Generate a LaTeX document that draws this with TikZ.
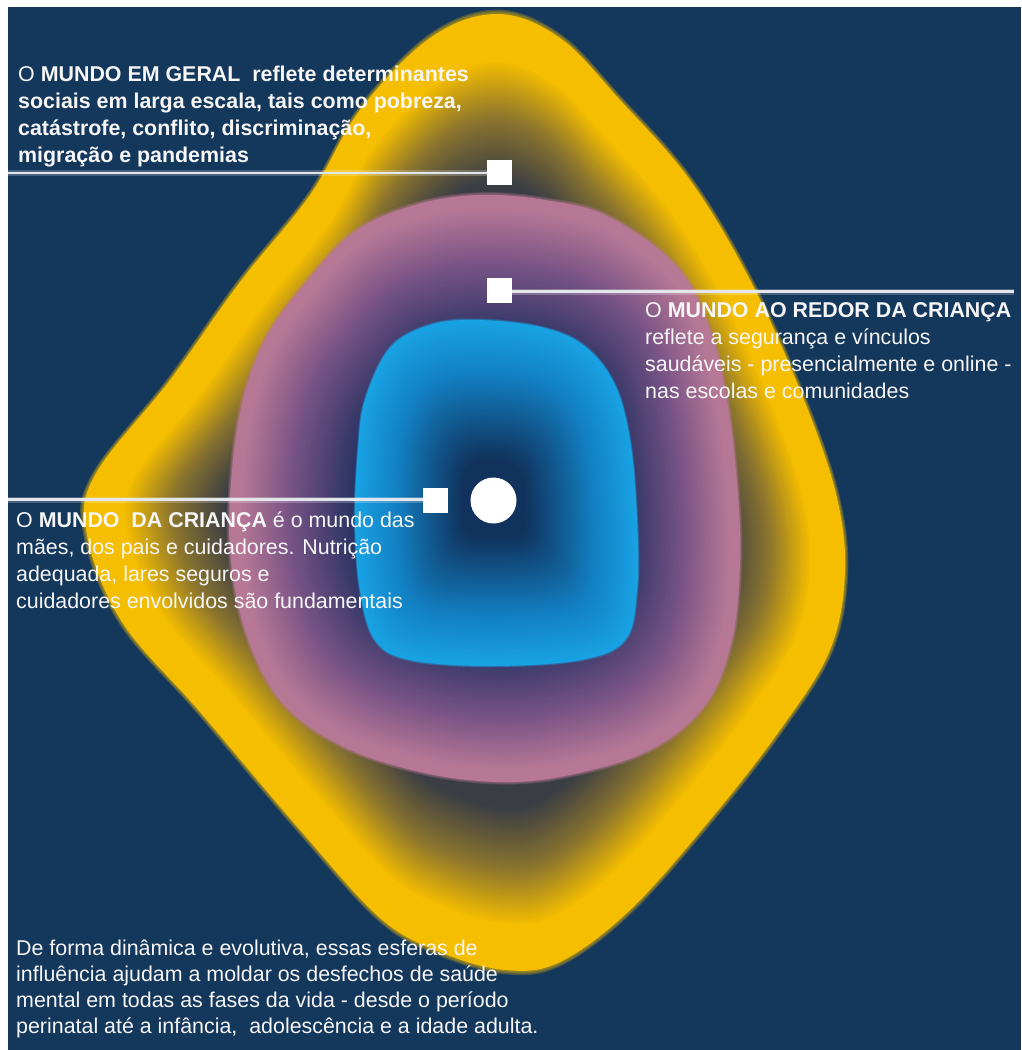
\documentclass[tikz,border=0pt]{standalone}
\usepackage{fontspec}
\setmainfont{Liberation Sans}
\definecolor{bg}{RGB}{20,55,92}
\definecolor{yE}{RGB}{245,190,0}
\definecolor{yM}{RGB}{138,116,46}
\definecolor{yI}{RGB}{58,61,68}
\definecolor{pE}{RGB}{183,120,150}
\definecolor{pM}{RGB}{122,84,134}
\definecolor{pI}{RGB}{44,52,100}
\definecolor{bE}{RGB}{25,163,228}
\definecolor{bM}{RGB}{18,128,195}
\definecolor{bI}{RGB}{16,50,92}
\definecolor{txtc}{RGB}{246,246,246}
\begin{document}
\begin{tikzpicture}[x=1pt,y=-1pt,
  txt/.style={text=txtc, inner sep=0pt, anchor=north west, align=left, font=\fontsize{21.4}{27}\selectfont},
  conn/.style={draw=white!88!bg, line width=2.6pt, preaction={draw=white, opacity=0.22, line width=6pt}},
  sq/.style={fill=white, minimum size=25pt, inner sep=0pt, draw=none},
  dot/.style={circle, fill=white, minimum size=46pt, inner sep=0pt, draw=none}]
\useasboundingbox (0,0) rectangle (1021,1050);
\fill[white] (0,0) rectangle (1021,1050);
\fill[bg] (8,7) rectangle (1021,1050);
\def\ypath{plot[smooth cycle,tension=0.6] coordinates {(497,14) (560,38) (620,100) (690,180) (750,280) (800,390) (835,490) (845,570) (830,650) (780,730) (710,820) (630,910) (560,962) (505,970) (440,952) (380,918) (300,830) (200,712) (122,622) (87,535) (95,475) (170,380) (240,282) (310,195) (360,110) (430,38)}}
\def\ppath{plot[smooth cycle,tension=0.6] coordinates {(478,195) (545,200) (609,217) (677,267) (710,330) (727,400) (737,483) (740,560) (732,640) (705,705) (650,750) (570,775) (500,782) (420,772) (340,745) (280,700) (245,630) (230,550) (232,470) (243,400) (265,340) (300,290) (353,233) (415,205)}}
\def\bpath{plot[smooth cycle,tension=0.6] coordinates {(478,320) (540,327) (583,345) (614,383) (630,440) (637,520) (637,590) (625,640) (580,660) (490,666) (410,660) (375,640) (360,590) (355,520) (358,450) (365,400) (390,348) (430,325)}}
% yellow sphere: soft rim, then contour gradient
\foreach \k in {1009,1006,1003}{
  \pgfmathsetmacro\s{\k/1000}
  \fill[yE, opacity=0.25, scale around={\s:(493,500)}] \ypath;
}
\foreach \i in {1000,995,...,600}{
  \pgfmathsetmacro\s{\i/1000}
  \pgfmathtruncatemacro\a{max(0,min(100,(\i-785)/120*100))}
  \pgfmathtruncatemacro\b{max(0,min(100,(\i-655)/130*100))}
  \fill[yE!\a!yM!\b!yI, scale around={\s:(493,500)}] \ypath;
}
% pink sphere
\foreach \k in {1009,1006,1003}{
  \pgfmathsetmacro\s{\k/1000}
  \fill[pE, opacity=0.25, scale around={\s:(493,500)}] \ppath;
}
\foreach \i in {1000,995,...,500}{
  \pgfmathsetmacro\s{\i/1000}
  \pgfmathtruncatemacro\a{max(0,min(100,(\i-780)/180*100))}
  \pgfmathtruncatemacro\b{max(0,min(100,(\i-540)/240*100))}
  \fill[pE!\a!pM!\b!pI, scale around={\s:(493,500)}] \ppath;
}
% blue sphere
\foreach \k in {1009,1006,1003}{
  \pgfmathsetmacro\s{\k/1000}
  \fill[bE, opacity=0.25, scale around={\s:(493,500)}] \bpath;
}
\foreach \i in {1000,995,...,20}{
  \pgfmathsetmacro\s{\i/1000}
  \pgfmathtruncatemacro\a{max(0,min(100,(\i-700)/300*100))}
  \pgfmathtruncatemacro\b{max(0,min(100,(\i-220)/480*100))}
  \fill[bE!\a!bM!\b!bI, scale around={\s:(493,500)}] \bpath;
}
% markers
\node[sq] (s1) at (499.5,172) {};
\node[sq] (s2) at (499,290) {};
\node[sq] (s3) at (435.5,500) {};
\node[dot] (c) at (493.5,500.5) {};
\coordinate (e1) at (8,173);
\coordinate (e2) at (1014,291.5);
\coordinate (e3) at (8,499.5);
\draw[conn] (e1) -- (s1.west |- e1);
\draw[conn] (s2.east |- e2) -- (e2);
\draw[conn] (e3) -- (s3.west |- e3);
% texts
\node[txt] (t1) at (18,62) {\strut O \textbf{MUNDO EM GERAL\ \ reflete determinantes}\\
\textbf{sociais em larga escala, tais como pobreza,}\\
\textbf{catástrofe, conflito, discriminação,}\\
\textbf{migração e pandemias}};
\node[txt] (t2) at (645,298) {\strut O \textbf{MUNDO AO REDOR DA CRIANÇA}\\
reflete a segurança e vínculos\\
saudáveis - presencialmente e online -\\
nas escolas e comunidades};
\node[txt] (t3) at (16,508) {\strut O \textbf{MUNDO\ \ DA CRIANÇA} é o mundo das\\
mães, dos pais e cuidadores. Nutrição\\
adequada, lares seguros e\\
cuidadores envolvidos são fundamentais};
\node[txt, font=\fontsize{21.4}{26}\selectfont] (t4) at (16,937) {\strut De forma dinâmica e evolutiva, essas esferas de\\
influência ajudam a moldar os desfechos de saúde\\
mental em todas as fases da vida - desde o período\\
perinatal até a infância,\ \ adolescência e a idade adulta.};
\end{tikzpicture}
\end{document}
